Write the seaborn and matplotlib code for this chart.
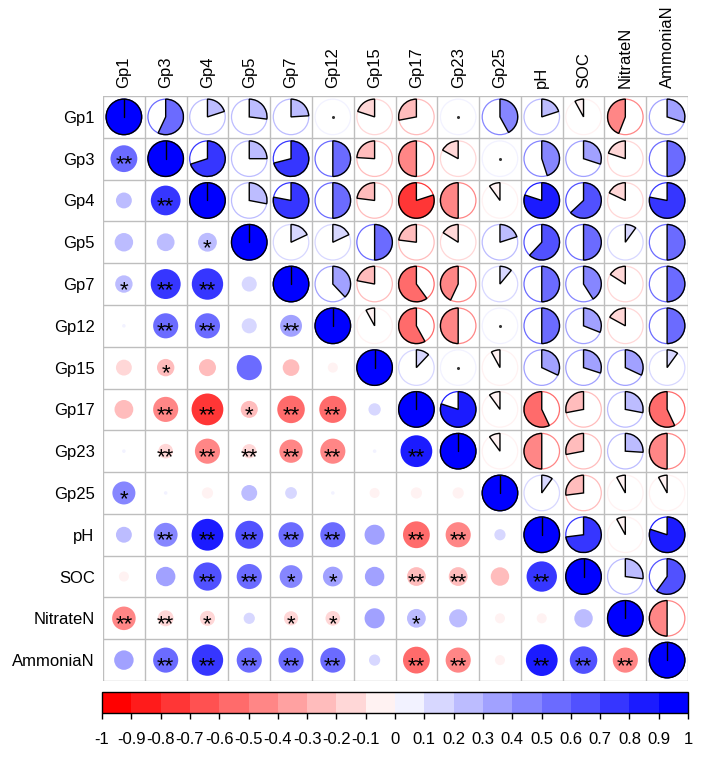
import matplotlib
matplotlib.use("Agg")
import matplotlib.pyplot as plt
from matplotlib.patches import Wedge, Circle
from matplotlib.colors import ListedColormap, BoundaryNorm, to_hex
from matplotlib.cm import ScalarMappable
import seaborn as sns
import numpy as np
import pandas as pd

labels = ["Gp1", "Gp3", "Gp4", "Gp5", "Gp7", "Gp12", "Gp15", "Gp17",
          "Gp23", "Gp25", "pH", "SOC", "NitrateN", "AmmoniaN"]

# correlations, upper triangle, row by row (columns right of the diagonal)
r_gp1 = [0.57, 0.20, 0.27, 0.24, 0.01, -0.20, -0.28, 0.01, 0.42, 0.20, -0.08, -0.44, 0.30]
r_gp3 = [0.70, 0.25, 0.71, 0.50, -0.24, -0.50, -0.17, 0.01, 0.45, 0.30, -0.20, 0.50]
r_gp4 = [0.28, 0.78, 0.50, -0.23, -0.80, -0.50, -0.10, 0.80, 0.63, -0.18, 0.78]
r_gp5 = [0.18, 0.18, 0.50, -0.23, -0.16, 0.20, 0.62, 0.50, 0.10, 0.50]
r_gp7 = [0.38, -0.22, -0.60, -0.43, 0.11, 0.50, 0.41, -0.16, 0.50]
r_gp12 = [-0.08, -0.58, -0.50, 0.01, 0.50, 0.31, -0.17, 0.50]
r_gp15 = [0.12, 0.01, -0.08, 0.32, 0.30, 0.32, 0.10]
r_gp17 = [0.80, -0.10, -0.57, -0.28, 0.28, -0.57]
r_gp23 = [-0.10, -0.50, -0.28, 0.26, -0.50]
r_gp25 = [0.10, -0.27, -0.08, -0.08]
r_ph = [0.73, -0.08, 0.80]
r_soc = [0.27, 0.60]
r_nitrate = [-0.50]
upper_rows = [r_gp1, r_gp3, r_gp4, r_gp5, r_gp7, r_gp12, r_gp15, r_gp17,
              r_gp23, r_gp25, r_ph, r_soc, r_nitrate]

# significance marks, lower triangle, row by row (columns left of the diagonal)
sig_gp3 = ["**"]
sig_gp4 = ["", "**"]
sig_gp5 = ["", "", "*"]
sig_gp7 = ["*", "**", "**", ""]
sig_gp12 = ["", "**", "**", "", "**"]
sig_gp15 = ["", "*", "", "", "", ""]
sig_gp17 = ["", "**", "**", "*", "**", "**", ""]
sig_gp23 = ["", "**", "**", "**", "**", "**", "", "**"]
sig_gp25 = ["*", "", "", "", "", "", "", "", ""]
sig_ph = ["", "**", "**", "**", "**", "**", "", "**", "**", ""]
sig_soc = ["", "", "**", "**", "*", "*", "", "**", "**", "", "**"]
sig_nitrate = ["**", "**", "*", "", "*", "*", "", "*", "", "", "", ""]
sig_ammonia = ["", "**", "**", "**", "**", "**", "", "**", "**", "", "**", "**", "**"]
lower_sig = [[], sig_gp3, sig_gp4, sig_gp5, sig_gp7, sig_gp12, sig_gp15, sig_gp17,
             sig_gp23, sig_gp25, sig_ph, sig_soc, sig_nitrate, sig_ammonia]

n = len(labels)
corr = np.eye(n)
for i, row in enumerate(upper_rows):
    for k, v in enumerate(row):
        corr[i, i + 1 + k] = v
        corr[i + 1 + k, i] = v

# red - white - blue ramp, 20 steps
ramp = []
for t in np.linspace(0, 1, 20):
    if t <= 0.5:
        f = t / 0.5
        ramp.append((1.0, f, f))
    else:
        f = (t - 0.5) / 0.5
        ramp.append((1 - f, 1 - f, 1.0))
cmap = ListedColormap(ramp)
norm = BoundaryNorm(np.linspace(-1, 1, 21), 20)


def col_of(v):
    idx = min(int(np.floor((v + 1) / 0.1 + 1e-9)), 19)
    return to_hex(ramp[idx])


sns.set_theme(style="white")
plt.rcParams['font.family'] = ['Liberation Sans', 'DejaVu Sans']
plt.rcParams['text.color'] = 'black'
plt.rcParams['xtick.color'] = 'black'
plt.rcParams['ytick.color'] = 'black'
plt.rcParams['xtick.labelcolor'] = 'black'
plt.rcParams['ytick.labelcolor'] = 'black'

W, H = 702, 758
fig = plt.figure(figsize=(W / 100, H / 100), dpi=100)
ax = fig.add_axes([103 / W, 1 - 681 / H, 585 / W, 585 / H])

R = 0.425
cell_px = 585 / n
smax = (2 * R * cell_px * 72 / 100) ** 2

# lower triangle: circles with area proportional to |r|
recs = []
for i in range(n):
    for j in range(i):
        recs.append({"x": j, "y": i, "absr": abs(corr[i, j]), "col": col_of(corr[i, j])})
df = pd.DataFrame(recs)
sns.scatterplot(data=df, x="x", y="y", size="absr", sizes=(0, smax), size_norm=(0, 1),
                hue="col", palette={c: c for c in df["col"].unique()},
                linewidth=0, legend=False, ax=ax, zorder=3)

for i in range(n):
    for j, s in enumerate(lower_sig[i]):
        if s:
            ax.text(j, i + 0.15, s, ha='center', va='center', fontsize=16,
                    color='black', zorder=5)

# upper triangle + diagonal: pies
for i in range(n):
    for j in range(i, n):
        v = corr[i, j]
        c = col_of(v)
        ax.add_patch(Circle((j, i), R, fill=False, edgecolor=c, lw=0.9, zorder=3))
        if abs(v) < 0.02:
            ax.plot(j, i, marker='o', ms=1.2, color='#333333', zorder=4)
            continue
        if v > 0:
            t1, t2 = -90, -90 + 360 * v
        else:
            t1, t2 = -90 - 360 * abs(v), -90
        ax.add_patch(Wedge((j, i), R, t1, t2, facecolor=c, edgecolor='black',
                           lw=1.0, zorder=4))
        if abs(v) >= 0.999:
            ax.plot([j, j], [i, i - R], color='black', lw=1.0, zorder=5)

for k in range(n + 1):
    ax.axhline(k - 0.5, color='#BEBEBE', lw=1, zorder=1)
    ax.axvline(k - 0.5, color='#BEBEBE', lw=1, zorder=1)

ax.set_xlim(-0.5, n - 0.5)
ax.set_ylim(n - 0.5, -0.5)
ax.set_aspect('equal')
ax.set_xlabel('')
ax.set_ylabel('')
for sp in ax.spines.values():
    sp.set_visible(False)
ax.xaxis.tick_top()
ax.set_xticks(range(n))
ax.set_xticklabels(labels, rotation=90, fontsize=12)
ax.set_yticks(range(n))
ax.set_yticklabels(labels, fontsize=12)
ax.tick_params(length=0, pad=6)

# colour legend
cax = fig.add_axes([102 / W, 1 - 713 / H, 586 / W, 21 / H])
ticks = np.round(np.linspace(-1, 1, 21), 1)
cb = fig.colorbar(ScalarMappable(norm=norm, cmap=cmap), cax=cax,
                  orientation='horizontal', ticks=ticks)
cb.ax.set_xticklabels(["%g" % t if t != 0 else "0" for t in ticks])
cb.outline.set_edgecolor('black')
cb.outline.set_linewidth(1)
cax.tick_params(length=4, width=1, color='black', labelsize=12, pad=10, direction='out')
cax.xaxis.set_ticks_position('bottom')

fig.savefig("out.png", dpi=100)
